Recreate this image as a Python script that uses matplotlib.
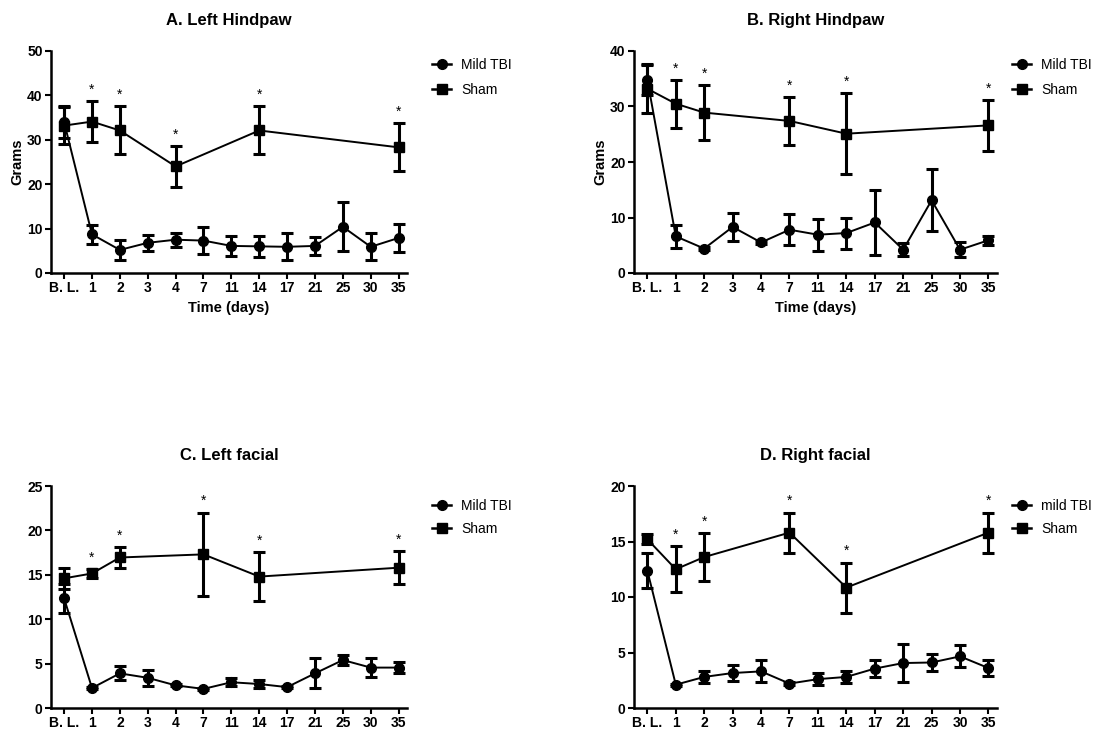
import numpy as np
import matplotlib
matplotlib.use('Agg')
from matplotlib import pyplot as plt
from matplotlib.lines import Line2D

plt.rcParams['font.family'] = ['Liberation Sans Narrow', 'Liberation Sans', 'DejaVu Sans']

days = ['B. L.', '1', '2', '3', '4', '7', '11', '14', '17', '21', '25', '30', '35']
sham_days = ['B. L.', '1', '2', '4', '14', '35']
sham_days_r = ['B. L.', '1', '2', '7', '14', '35']

# A. Left hindpaw
a_tbi = [34.0, 8.7, 5.2, 6.8, 7.5, 7.3, 6.1, 6.0, 5.9, 6.1, 10.4, 5.9, 7.9]
a_tbi_err = [3.5, 2.1, 2.2, 1.8, 1.6, 3.0, 2.2, 2.3, 3.0, 2.0, 5.5, 3.0, 3.2]
a_sham = [33.2, 34.1, 32.1, 24.0, 32.1, 28.3]
a_sham_err = [4.2, 4.7, 5.4, 4.6, 5.4, 5.4]

# B. Right hindpaw
b_tbi = [34.8, 6.6, 4.4, 8.3, 5.5, 7.8, 6.9, 7.2, 9.1, 4.2, 13.1, 4.2, 5.9]
b_tbi_err = [2.8, 2.1, 0.3, 2.6, 0.3, 2.8, 2.9, 2.8, 5.8, 1.2, 5.6, 1.4, 0.8]
b_sham = [33.2, 30.5, 28.9, 27.4, 25.1, 26.6]
b_sham_err = [4.3, 4.3, 5.0, 4.3, 7.3, 4.6]

# C. Left facial
c_tbi = [12.35, 2.25, 3.9, 3.4, 2.55, 2.15, 2.9, 2.7, 2.35, 3.9, 5.4, 4.55, 4.55]
c_tbi_err = [1.6, 0.15, 0.8, 0.9, 0.1, 0.1, 0.45, 0.5, 0.1, 1.7, 0.55, 1.1, 0.6]
c_sham = [14.6, 15.15, 16.95, 17.3, 14.8, 15.8]
c_sham_err = [1.2, 0.5, 1.15, 4.7, 2.75, 1.85]

# D. Right facial
d_tbi = [12.37, 2.1, 2.8, 3.15, 3.3, 2.2, 2.6, 2.8, 3.55, 4.05, 4.1, 4.65, 3.6]
d_tbi_err = [1.55, 0.1, 0.55, 0.7, 1.0, 0.1, 0.55, 0.55, 0.8, 1.7, 0.75, 1.0, 0.75]
d_sham = [15.2, 12.5, 13.6, 15.8, 10.85, 15.8]
d_sham_err = [0.45, 2.05, 2.15, 1.8, 2.25, 1.8]

W, H = 1094, 735


def panel(fig, box, legend_xy, title, tbi, tbi_err, sdays, sham, sham_err, ymax, ystep,
          tbi_label='Mild TBI', xlabel=True, ylabel=True, spacing=0.8):
    l, t, r, b = box
    ax = fig.add_axes([l / W, 1 - b / H, (r - l) / W, (b - t) / H])
    xs = np.arange(len(days))
    sx = np.array([days.index(d) for d in sdays])
    style = dict(color='black', lw=1.4, elinewidth=2.2, capsize=4, capthick=2.2, ms=7)
    ax.errorbar(xs, tbi, yerr=tbi_err, fmt='-o', **style)
    ax.errorbar(sx, sham, yerr=sham_err, fmt='-s', **style)
    # significance marks above sham bars (all but baseline)
    for x, y, e in zip(sx[1:], sham[1:], sham_err[1:]):
        ax.text(x, y + e + ymax * 0.02, '*', ha='center', va='bottom', fontsize=10)
    ax.set_xlim(-0.47, 12.3)
    ax.set_ylim(0, ymax)
    ax.set_xticks(xs)
    ax.set_xticklabels(days)
    ax.set_yticks(np.arange(0, ymax + 0.1, ystep))
    for s in ['top', 'right']:
        ax.spines[s].set_visible(False)
    for s in ['left', 'bottom']:
        ax.spines[s].set_linewidth(1.8)
    ax.tick_params(width=1.5, length=4, labelsize=10, pad=2)
    for lab in ax.get_xticklabels() + ax.get_yticklabels():
        lab.set_fontweight('bold')
    ax.set_title(title, fontsize=12, fontweight='bold', pad=19)
    if xlabel:
        ax.set_xlabel('Time (days)', fontsize=10.5, fontweight='bold', labelpad=4)
    if ylabel:
        ax.set_ylabel('Grams', fontsize=10.5, fontweight='bold', labelpad=2)
    handles = [Line2D([], [], color='black', lw=1.8, marker='o', ms=7),
               Line2D([], [], color='black', lw=1.8, marker='s', ms=7)]
    fig.legend(handles, [tbi_label, 'Sham'], loc='upper left',
               bbox_to_anchor=(legend_xy[0] / W, 1 - legend_xy[1] / H),
               frameon=False, fontsize=10, handlelength=1.4, handletextpad=0.7,
               labelspacing=spacing, borderpad=0, borderaxespad=0)
    return ax


fig = plt.figure(figsize=(W / 100, H / 100), dpi=100)
panel(fig, (51, 51, 407, 273), (432, 58), 'A. Left Hindpaw', a_tbi, a_tbi_err,
      sham_days, a_sham, a_sham_err, 50, 10)
panel(fig, (634, 51, 997, 273), (1012, 58), 'B. Right Hindpaw', b_tbi, b_tbi_err,
      sham_days_r, b_sham, b_sham_err, 40, 10)
panel(fig, (51, 486, 407, 708), (432, 499), 'C. Left facial', c_tbi, c_tbi_err,
      sham_days_r, c_sham, c_sham_err, 25, 5, xlabel=False, ylabel=False,
      spacing=0.65)
panel(fig, (634, 486, 997, 708), (1012, 499), 'D. Right facial', d_tbi, d_tbi_err,
      sham_days_r, d_sham, d_sham_err, 20, 5, tbi_label='mild TBI',
      xlabel=False, ylabel=False, spacing=0.65)

fig.savefig('out.png', dpi=100)
